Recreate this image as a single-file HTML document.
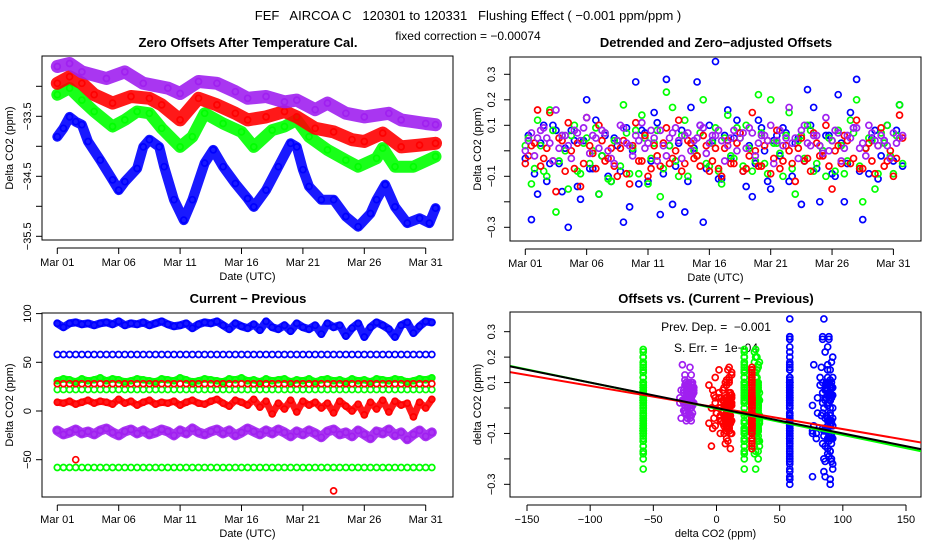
<!DOCTYPE html>
<html><head><meta charset="utf-8"><style>
html,body{margin:0;padding:0;background:#fff;}
svg{display:block;font-family:"Liberation Sans",sans-serif;}
.pre{white-space:pre;}
</style></head><body>
<svg id="s" width="936" height="540" viewBox="0 0 936 540">
<text class="pre" x="468" y="20" text-anchor="middle" font-size="13">FEF   AIRCOA C   120301 to 120331   Flushing Effect ( −0.001 ppm/ppm )</text>
<text x="468" y="40" text-anchor="middle" font-size="12">fixed correction = −0.00074</text>
<text x="248" y="47" text-anchor="middle" font-size="13" font-weight="bold">Zero Offsets After Temperature Cal.</text>
<text x="716" y="47" text-anchor="middle" font-size="13" font-weight="bold">Detrended and Zero−adjusted Offsets</text>
<text x="248" y="303" text-anchor="middle" font-size="13" font-weight="bold">Current − Previous</text>
<text x="716" y="303" text-anchor="middle" font-size="13" font-weight="bold">Offsets vs. (Current − Previous)</text>
<text class="pre" x="716" y="331" text-anchor="middle" font-size="12">Prev. Dep. =  −0.001</text>
<text class="pre" x="716" y="352" text-anchor="middle" font-size="12">S. Err. =  1e−04</text>
</svg>
<script>
// ---------- Panel 1 data (day since Mar 01, ppm) ----------
const p1PurpleDays=[0,1,2,4,5.5,7,9,10,11.5,13,14.5,15.5,17,18.5,19.5,21,22,23.5,25,27,28,30,30.8];
const p1PurpleVals=[-32.67,-32.62,-32.76,-32.87,-32.76,-32.95,-33.03,-33.12,-32.92,-32.95,-33.09,-33.2,-33.17,-33.26,-33.23,-33.39,-33.28,-33.45,-33.51,-33.45,-33.56,-33.62,-33.64];
const p1RedDays=[0,1,2,3,4.5,6,7.5,8.5,10,11.5,13,14.5,15.5,17,18.5,19.5,21,22.5,24,25,26.5,28,29.5,30.8];
const p1RedVals=[-32.95,-32.84,-32.95,-33.14,-33.28,-33.17,-33.2,-33.31,-33.56,-33.2,-33.31,-33.45,-33.56,-33.51,-33.42,-33.51,-33.7,-33.76,-33.89,-33.92,-33.78,-34.01,-33.98,-33.95];
const p1GreenDays=[0,1,2,3,4.5,5.5,6.5,7.5,8.5,10,11,12,13.5,15,16,17.5,18.5,19.5,20.5,22,23.5,24.5,26,26.5,27.5,29,30.8];
const p1GreenVals=[-33.14,-33.03,-33.23,-33.42,-33.67,-33.56,-33.42,-33.45,-33.7,-34.01,-33.84,-33.45,-33.62,-33.76,-34.01,-33.73,-33.67,-33.56,-33.84,-34.06,-34.23,-34.34,-34.2,-34.03,-34.34,-34.34,-34.17];
const p1BlueDays=[0,0.5,1,1.5,2,2.5,3.5,4.5,5,5.5,6.5,7,7.5,8.3,8.7,9.5,10.3,11,12,12.7,13.5,14.5,15.5,16,17,18,19,19.5,20,20.5,21.5,22.5,23.5,24.5,25.5,26,26.7,27.5,28.5,29.5,30.3,30.8];
const p1BlueVals=[-33.84,-33.7,-33.51,-33.59,-33.64,-33.92,-34.23,-34.56,-34.73,-34.59,-34.37,-34.01,-33.89,-34.01,-34.34,-34.89,-35.23,-34.89,-34.28,-34.06,-34.34,-34.62,-34.87,-35.01,-34.73,-34.34,-33.95,-34.01,-34.39,-34.67,-34.89,-34.89,-35.17,-35.34,-35.12,-34.89,-34.64,-35.01,-35.28,-35.2,-35.28,-35.03];
const p1YTicks=[-33,-33.5,-34,-34.5,-35,-35.5];
const p1YLabels=["","-33.5","","-34.5","","-35.5"];

// ---------- shared date axis ----------
const dateTickDays=[0,5,10,15,20,25,30];
const dateTickLabels=["Mar 01","Mar 06","Mar 11","Mar 16","Mar 21","Mar 26","Mar 31"];

// ---------- Panel 2 data (detrended, ppm), half-day samples (A at :00, B at +0.25 day) ----------
const p2Blue=[-0.03,-0.27,-0.17,0.1,-0.05,0.08,-0.16,-0.3,0.04,-0.19,0.2,-0.07,-0.17,0.06,-0.12,0.02,-0.28,-0.22,0.27,0.08,-0.12,0.15,-0.25,0.28,-0.21,0.03,-0.24,0.17,0.27,-0.28,0.1,0.35,-0.11,0.16,0.05,0.07,-0.14,-0.18,0.12,0.0,-0.15,0.06,0.09,-0.12,0.03,-0.21,0.24,0.17,-0.2,0.06,-0.09,0.22,-0.2,0.15,0.28,-0.27,-0.09,0.08,-0.02,0.1,-0.04,0.18];
const p2BlueB=[0.06,-0.09,0.03,-0.12,0.1,-0.05,0.01,0.08,-0.14,0.04,-0.07,0.12,-0.02,-0.1,0.05,-0.08,0.09,0.0,-0.13,0.07,-0.04,0.11,-0.09,0.02,-0.06,0.08,-0.12,0.01,0.1,-0.07,0.04,-0.11,0.06,-0.03,0.12,-0.08,0.02,-0.05,0.09,-0.12,0.04,-0.02,0.07,-0.1,0.05,-0.04,0.1,-0.07,0.0,0.06,-0.1,0.03,-0.05,0.09,-0.08,0.01,0.05,-0.11,0.04,-0.03,0.08,-0.06];
const p2Green=[0.02,-0.13,0.12,-0.08,0.16,-0.24,0.06,-0.15,0.1,-0.09,0.05,0.0,-0.17,0.07,-0.12,0.04,0.18,-0.09,0.08,0.14,-0.13,0.03,-0.18,0.23,0.17,-0.1,0.12,0.03,-0.02,0.2,-0.06,0.09,-0.13,0.14,-0.03,0.05,0.1,-0.08,0.22,-0.05,0.2,0.03,-0.1,0.15,-0.17,0.06,0.1,-0.08,0.02,-0.1,0.04,0.08,-0.09,0.12,0.2,-0.2,0.05,-0.15,0.07,0.1,-0.09,0.18];
const p2GreenB=[0.05,-0.07,0.02,-0.1,0.08,-0.04,0.0,0.06,-0.08,0.03,-0.05,0.09,-0.02,-0.11,0.04,-0.06,0.07,0.01,-0.09,0.05,-0.03,0.08,-0.07,0.02,-0.04,0.06,-0.1,0.0,0.07,-0.05,0.03,-0.08,0.05,-0.02,0.09,-0.06,0.01,-0.04,0.07,-0.09,0.03,-0.01,0.06,-0.07,0.04,-0.03,0.08,-0.05,0.0,0.05,-0.08,0.02,-0.04,0.07,-0.06,0.01,0.04,-0.09,0.03,-0.02,0.06,-0.05];
const p2Red=[-0.05,0.02,0.16,-0.03,0.15,-0.16,0.04,0.11,-0.07,-0.14,0.13,-0.01,0.1,-0.04,0.01,-0.1,0.04,-0.13,0.11,-0.04,-0.1,0.02,-0.06,0.09,-0.03,0.12,-0.05,0.03,-0.02,0.06,-0.08,0.01,-0.1,0.04,-0.05,0.07,-0.07,0.15,-0.06,0.02,-0.09,0.08,-0.04,0.0,-0.12,0.05,-0.03,0.07,-0.02,0.1,-0.15,0.02,0.06,-0.05,0.12,-0.07,0.03,-0.09,0.09,-0.04,-0.1,0.14];
const p2RedB=[-0.02,0.03,-0.06,0.01,-0.04,0.05,-0.08,0.0,0.03,-0.05,0.02,-0.07,0.04,-0.03,-0.06,0.01,-0.09,0.02,-0.04,0.06,-0.07,-0.02,0.03,-0.05,0.0,-0.08,0.04,-0.03,-0.06,0.02,-0.04,-0.07,0.01,-0.05,0.03,-0.08,-0.02,0.0,-0.06,0.04,-0.03,-0.07,0.02,-0.05,0.01,-0.04,-0.08,0.03,-0.02,-0.06,0.0,-0.05,0.04,-0.03,-0.07,0.01,-0.04,0.02,-0.06,0.0,-0.03,0.05];
const p2Purple=[0.0,0.07,0.05,0.09,0.03,0.16,0.06,0.02,0.08,0.04,0.13,0.06,0.01,0.07,-0.03,0.04,0.09,0.02,0.06,0.11,0.03,0.05,0.08,-0.02,0.07,0.04,0.06,0.0,0.05,0.09,0.03,0.06,0.04,0.02,0.08,0.05,0.01,0.07,0.03,0.06,0.1,0.04,0.02,0.17,0.05,0.08,0.03,0.06,0.02,0.13,0.04,0.07,0.01,0.05,0.09,0.03,0.1,0.04,0.06,0.02,0.07,0.05];
const p2PurpleB=[0.04,-0.02,0.08,0.05,-0.04,0.01,0.06,-0.03,0.07,0.09,-0.01,0.05,0.08,0.0,-0.05,0.1,0.03,-0.02,0.04,0.01,0.08,-0.04,0.02,0.05,0.09,-0.03,0.07,0.04,0.1,-0.01,0.06,0.08,-0.04,0.05,0.0,0.07,0.09,-0.02,0.06,0.04,-0.05,0.08,0.05,0.03,-0.03,0.1,0.02,0.06,-0.01,0.0,0.08,-0.04,0.06,0.09,0.01,-0.02,0.07,0.02,0.04,-0.03,0.03,0.06];
const p2YTicks=[0.3,0.2,0.1,0,-0.1,-0.2,-0.3];
const p2YLabels=["0.3","0.2","0.1","","-0.1","","-0.3"];

// ---------- Panel 3 data (current - previous, ppm), one value per half day ----------
const p3BlueHigh=[90,86,90,91,89,90,88,90,91,89,92,88,90,89,91,88,90,92,89,87,88,90,85,89,91,90,92,88,84,90,87,85,89,83,92,86,84,88,82,90,86,84,88,79,90,86,88,77,85,90,76,86,91,88,84,76,88,91,80,87,92,91];
const p3BlueMid=[58,58,58,58,58,58,58,58,58,58,58,58,58,58,58,58,58,58,58,58,58,58,58,58,58,58,58,58,58,58,58,58,58,58,58,58,58,58,58,58,58,58,58,58,58,58,58,58,58,58,58,58,58,58,58,58,58,58,58,58,58,58];
const p3GreenHigh=[31,33,32,30,33,31,32,34,31,33,32,30,31,33,32,31,30,33,32,31,34,32,30,31,33,32,31,30,33,32,34,31,32,30,33,31,32,33,30,32,31,33,30,32,33,31,32,30,33,31,32,30,33,32,31,33,32,30,31,33,32,34];
const p3GreenMid=[22,22,22,22,22,22,22,22,22,22,22,22,22,22,22,22,22,22,22,22,22,22,22,22,22,22,22,22,22,22,22,22,22,22,22,22,22,22,22,22,22,22,22,22,22,22,22,22,22,22,22,22,22,22,22,22,22,22,22,22,22,22];
const p3GreenLow=[-58,-58,-58,-58,-58,-58,-58,-58,-58,-58,-58,-58,-58,-58,-58,-58,-58,-58,-58,-58,-58,-58,-58,-58,-58,-58,-58,-58,-58,-58,-58,-58,-58,-58,-58,-58,-58,-58,-58,-58,-58,-58,-58,-58,-58,-58,-58,-58,-58,-58,-58,-58,-58,-58,-58,-58,-58,-58,-58,-58,-58,-58];
const p3RedMid=[28,28,28,28,28,28,28,28,28,28,28,28,28,28,28,28,28,28,28,28,28,28,28,28,28,28,28,28,28,28,28,28,28,28,28,28,28,28,28,28,28,28,28,28,28,28,28,28,28,28,28,28,28,28,28,28,28,28,28,28,28,28];
const p3RedLow=[9,8,10,7,9,11,8,10,9,7,12,8,10,6,9,11,7,9,8,10,6,9,11,8,7,10,12,8,5,11,9,6,12,4,10,-3,8,2,11,-1,10,6,9,3,8,-2,10,5,0,7,-4,9,2,11,-1,10,6,8,-6,9,3,12];
const p3Purple=[-20,-24,-22,-19,-23,-21,-24,-20,-18,-22,-25,-21,-19,-23,-20,-24,-22,-19,-21,-25,-20,-23,-18,-22,-24,-21,-19,-23,-20,-25,-22,-18,-21,-24,-20,-23,-19,-22,-26,-21,-24,-20,-23,-27,-21,-19,-24,-22,-26,-20,-24,-28,-21,-23,-19,-25,-22,-29,-24,-20,-26,-22];
const p3OutlierDays=[1.5,22.5];
const p3OutlierVals=[-50,-82];
const p3YTicks=[100,50,0,-50];
const p3YLabels=["100","50","0","-50"];

// ---------- Panel 4 regression lines ----------
const fitNames=["green-fit","red-fit","black-fit"];
const fitSlopes=[-0.00103,-0.00085,-0.001];
const fitIntercepts=[-0.003,0.002,0];
const fitColors=["#00ff00","#ff0000","#000000"];
const p4XTicks=[-150,-100,-50,0,50,100,150];
const p4YTicks=[0.3,0.2,0.1,0,-0.1,-0.2,-0.3];
const p4YLabels=["0.3","0.2","0.1","","-0.1","","-0.3"];

const NS="http://www.w3.org/2000/svg";
const svg=document.getElementById('s');
const BLUE="#0000ff",RED="#ff0000",GREEN="#00ff00",PURPLE="#a020f0";
const halfDays=p2Blue.map((v,i)=>i*0.5);
const halfDaysB=p2Blue.map((v,i)=>i*0.5+0.25);

function mk(tag,attrs,parent){const e=document.createElementNS(NS,tag);for(const k in attrs)e.setAttribute(k,attrs[k]);(parent||svg).appendChild(e);return e;}

const P1={L:42,R:453,T:56,B:240,x:d=>57.3+d*12.28,y:v=>116.3+(-33.5-v)*60};
const P2={L:510,R:921,T:57,B:241,x:d=>525.3+d*12.27,y:v=>150.8-v*255};
const P3={L:42,R:453,T:313,B:497,x:d=>57.3+d*12.28,y:v=>411-v*0.974};
const P4={L:510,R:921,T:312,B:497,x:v=>716.5+v*1.2633,y:v=>408-v*254.4};

function frame(P,name){
  const r=mk('rect',{x:P.L,y:P.T,width:P.R-P.L,height:P.B-P.T,fill:'none',stroke:'#000','stroke-width':1});
  
  
}
function clipFor(P,id){const cp=mk('clipPath',{id:id});mk('rect',{x:P.L,y:P.T,width:P.R-P.L,height:P.B-P.T},cp);}
function yAxis(P,ticks,labels,title,name,labX,titleX){
  const g=mk('g',{});
  
  
  mk('line',{x1:P.L,x2:P.L,y1:P.y(ticks[0]),y2:P.y(ticks[ticks.length-1]),stroke:'#000'},g);
  ticks.forEach((t,i)=>{const y=P.y(t);mk('line',{x1:P.L-6,x2:P.L,y1:y,y2:y,stroke:'#000'},g);
    if(labels[i]){const tx=mk('text',{x:labX,y:y,'font-size':11,'text-anchor':'middle',transform:`rotate(-90 ${labX} ${y})`,'dominant-baseline':'middle'},g);tx.textContent=labels[i].replace('-','−');}});
  const cy=(P.T+P.B)/2;
  const tt=mk('text',{x:titleX,y:cy,'font-size':11,'text-anchor':'middle',transform:`rotate(-90 ${titleX} ${cy})`,'dominant-baseline':'middle'});
  tt.textContent=title;
  
  
}
function xAxis(P,ticks,labels,fx,title,name){
  const g=mk('g',{});
  
  
  const ay=P.B+8;
  mk('line',{x1:fx(ticks[0]),x2:fx(ticks[ticks.length-1]),y1:ay,y2:ay,stroke:'#000'},g);
  ticks.forEach((t,i)=>{const x=fx(t);mk('line',{x1:x,x2:x,y1:ay,y2:ay+6,stroke:'#000'},g);
    const tx=mk('text',{x:x,y:ay+18,'font-size':11,'text-anchor':'middle'},g);tx.textContent=String(labels[i]).replace('-','−');});
  const tt=mk('text',{x:(P.L+P.R)/2,y:ay+32,'font-size':11,'text-anchor':'middle'});
  tt.textContent=title;
  
  
}
function series(P,clip,xs,ys,col,name,band){
  const g=mk('g',{'clip-path':`url(#${clip})`});
  
  
  if(band){const pts=xs.map((x,i)=>P.x(x)+','+P.y(ys[i])).join(' ');
    mk('polyline',{points:pts,fill:'none',stroke:col,'stroke-width':band,'stroke-linejoin':'round','stroke-linecap':'round',opacity:0.9},g);}
  xs.forEach((x,i)=>{const c=mk('circle',{cx:P.x(x),cy:P.y(ys[i]),r:3,fill:'none',stroke:col,'stroke-width':1.7},g);
    
    });
}

// Panel 1
clipFor(P1,'c1');frame(P1,'panel1');
series(P1,'c1',p1BlueDays,p1BlueVals,BLUE,'panel1-blue-series',10);
series(P1,'c1',p1GreenDays,p1GreenVals,GREEN,'panel1-green-series',12);
series(P1,'c1',p1RedDays,p1RedVals,RED,'panel1-red-series',13);
series(P1,'c1',p1PurpleDays,p1PurpleVals,PURPLE,'panel1-purple-series',13);
yAxis(P1,p1YTicks,p1YLabels,'Delta CO2 (ppm)','panel1',28,10);
xAxis(P1,dateTickDays,dateTickLabels,P1.x,'Date (UTC)','panel1');

// Panel 2
clipFor(P2,'c2');frame(P2,'panel2');
series(P2,'c2',halfDays,p2Blue,BLUE,'panel2-blue-series',0);
series(P2,'c2',halfDaysB,p2BlueB,BLUE,'panel2-blue-series-b',0);
series(P2,'c2',halfDays,p2Green,GREEN,'panel2-green-series',0);
series(P2,'c2',halfDaysB,p2GreenB,GREEN,'panel2-green-series-b',0);
series(P2,'c2',halfDays,p2Red,RED,'panel2-red-series',0);
series(P2,'c2',halfDaysB,p2RedB,RED,'panel2-red-series-b',0);
series(P2,'c2',halfDays,p2Purple,PURPLE,'panel2-purple-series',0);
series(P2,'c2',halfDaysB,p2PurpleB,PURPLE,'panel2-purple-series-b',0);
yAxis(P2,p2YTicks,p2YLabels,'Delta CO2 (ppm)','panel2',492,478);
xAxis(P2,dateTickDays,dateTickLabels,P2.x,'Date (UTC)','panel2');

// Panel 3
clipFor(P3,'c3');frame(P3,'panel3');
series(P3,'c3',halfDays,p3BlueHigh,BLUE,'panel3-blue-high-series',8);
series(P3,'c3',halfDays,p3BlueMid,BLUE,'panel3-blue-mid-series',0);
series(P3,'c3',halfDays,p3GreenHigh,GREEN,'panel3-green-high-series',7);
series(P3,'c3',halfDays,p3GreenMid,GREEN,'panel3-green-mid-series',0);
series(P3,'c3',halfDays,p3RedMid,RED,'panel3-red-mid-series',0);
series(P3,'c3',halfDays,p3RedLow,RED,'panel3-red-low-series',7);
series(P3,'c3',halfDays,p3Purple,PURPLE,'panel3-purple-series',10);
series(P3,'c3',halfDays,p3GreenLow,GREEN,'panel3-green-low-series',0);
series(P3,'c3',p3OutlierDays,p3OutlierVals,RED,'panel3-outliers',0);
yAxis(P3,p3YTicks,p3YLabels,'Delta CO2 (ppm)','panel3',28,10);
xAxis(P3,dateTickDays,dateTickLabels,P3.x,'Date (UTC)','panel3');

// Panel 4: offsets (panel 2) vs current-previous (panel 3)
clipFor(P4,'c4');frame(P4,'panel4');
series(P4,'c4',p3GreenLow,p2Green,GREEN,'panel4-green-low-cluster',0);
series(P4,'c4',p3GreenLow,p2GreenB,GREEN,'panel4-green-low-cluster-b',0);
series(P4,'c4',p3Purple,p2Purple,PURPLE,'panel4-purple-cluster',0);
series(P4,'c4',p3Purple,p2PurpleB,PURPLE,'panel4-purple-cluster-b',0);
series(P4,'c4',p3RedLow,p2Red,RED,'panel4-red-low-cluster',0);
series(P4,'c4',p3RedLow,p2RedB,RED,'panel4-red-low-cluster-b',0);
series(P4,'c4',p3GreenMid,p2Green,GREEN,'panel4-green-mid-cluster',0);
series(P4,'c4',p3GreenHigh,p2Green,GREEN,'panel4-green-high-cluster',0);
series(P4,'c4',p3GreenHigh,p2GreenB,GREEN,'panel4-green-high-cluster-b',0);
series(P4,'c4',p3RedMid,p2Red,RED,'panel4-red-mid-cluster',0);
series(P4,'c4',p3RedMid,p2RedB,RED,'panel4-red-mid-cluster-b',0);
series(P4,'c4',p3BlueMid,p2Blue,BLUE,'panel4-blue-mid-cluster',0);
series(P4,'c4',p3BlueMid,p2BlueB,BLUE,'panel4-blue-mid-cluster-b',0);
series(P4,'c4',p3BlueHigh,p2Blue,BLUE,'panel4-blue-high-cluster',0);
series(P4,'c4',p3BlueHigh,p2BlueB,BLUE,'panel4-blue-high-cluster-b',0);
const fg=mk('g',{'clip-path':'url(#c4)'});


fitSlopes.forEach((m,i)=>{const x0=-170,x1=170;
  const ln=mk('line',{x1:P4.x(x0),x2:P4.x(x1),y1:P4.y(fitIntercepts[i]+m*x0),y2:P4.y(fitIntercepts[i]+m*x1),stroke:fitColors[i],'stroke-width':2},fg);
  
  });
yAxis(P4,p4YTicks,p4YLabels,'delta CO2 (ppm)','panel4',492,478);
xAxis(P4,p4XTicks,p4XTicks,P4.x,'delta CO2 (ppm)','panel4');
</script>
</body></html>
